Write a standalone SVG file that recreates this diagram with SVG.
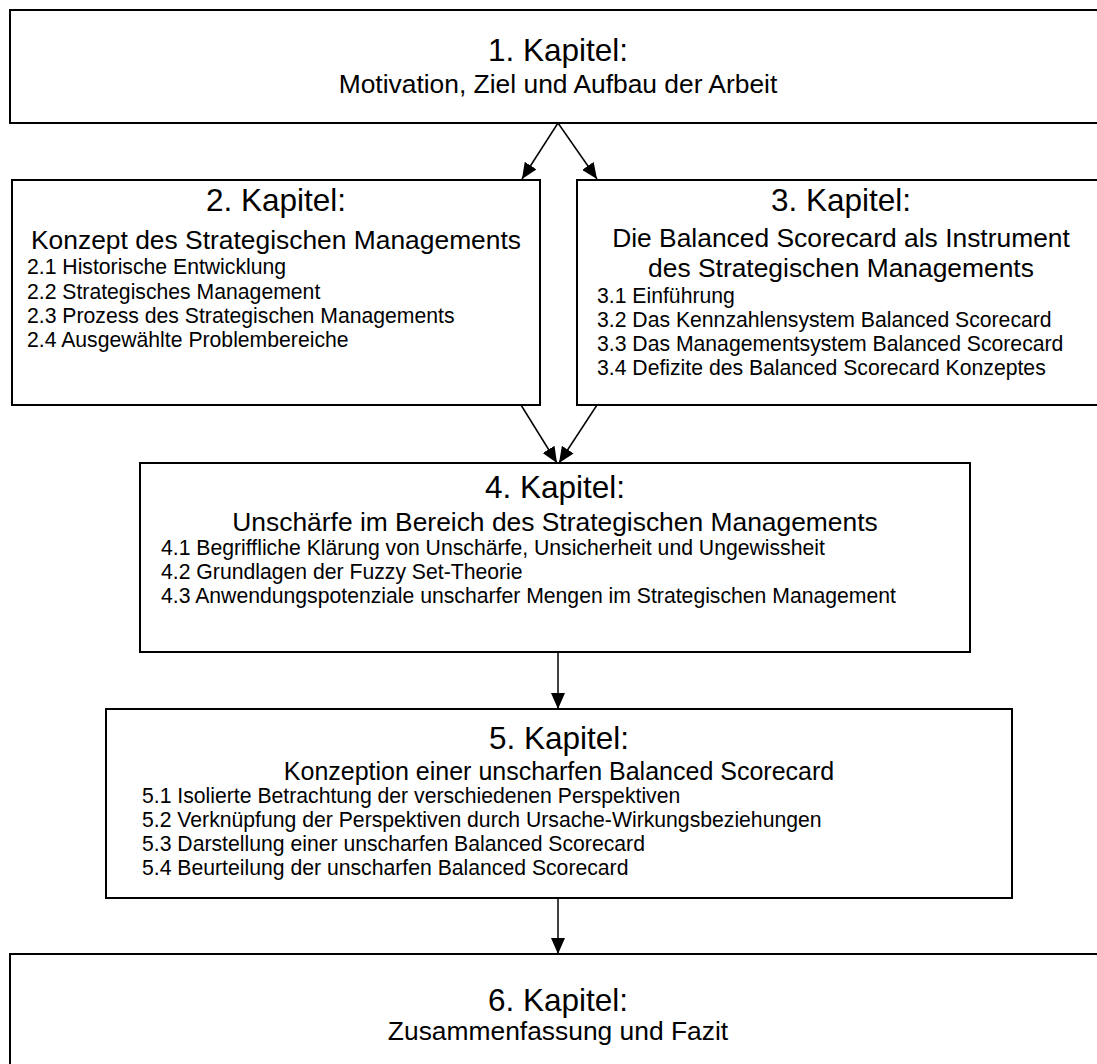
<svg xmlns="http://www.w3.org/2000/svg" width="1097" height="1064" viewBox="0 0 1097 1064">
<style>
.box{fill:#fff;stroke:#000;stroke-width:2}
.t{font-family:"Liberation Sans",Arial,sans-serif;fill:#000}
.h{font-size:31.5px;text-anchor:middle}
.s{font-size:26.4px;text-anchor:middle}
.s2{font-size:25px}
.i{font-size:21.2px}
.c{fill:none;stroke:#000;stroke-width:1.5}
</style>
<defs>
<marker id="ah" markerUnits="userSpaceOnUse" markerWidth="17" markerHeight="14" refX="16" refY="7" orient="auto">
<path d="M0,0 L16,7 L0,14 Z" fill="#000"/>
</marker>
</defs>
<rect width="1097" height="1064" fill="#fff"/>
<g id="connectors">
<line class="c" x1="558" y1="123" x2="522" y2="179" marker-end="url(#ah)"/>
<line class="c" x1="558" y1="123" x2="597" y2="179" marker-end="url(#ah)"/>
<line class="c" x1="521" y1="405" x2="557" y2="463" marker-end="url(#ah)"/>
<line class="c" x1="597" y1="405" x2="559" y2="463" marker-end="url(#ah)"/>
<line class="c" x1="558" y1="652" x2="558" y2="709" marker-end="url(#ah)"/>
<line class="c" x1="558" y1="898" x2="558" y2="954" marker-end="url(#ah)"/>
</g>
<g id="k1">
<rect class="box" x="10" y="10" width="1096" height="113"/>
<text class="t h" x="558" y="61">1. Kapitel:</text>
<text class="t s" x="558" y="93">Motivation, Ziel und Aufbau der Arbeit</text>
</g>
<g id="k2">
<rect class="box" x="12" y="180" width="528" height="225"/>
<text class="t h" x="276" y="211">2. Kapitel:</text>
<text class="t s" x="276" y="249">Konzept des Strategischen Managements</text>
<text class="t i" x="27" y="274">2.1 Historische Entwicklung</text>
<text class="t i" x="27" y="299">2.2 Strategisches Management</text>
<text class="t i" x="27" y="323">2.3 Prozess des Strategischen Managements</text>
<text class="t i" x="27" y="347">2.4 Ausgewählte Problembereiche</text>
</g>
<g id="k3">
<rect class="box" x="577" y="180" width="528" height="225"/>
<text class="t h" x="841" y="211">3. Kapitel:</text>
<text class="t s" x="841" y="247">Die Balanced Scorecard als Instrument</text>
<text class="t s" x="841" y="277">des Strategischen Managements</text>
<text class="t i" x="597" y="303">3.1 Einführung</text>
<text class="t i" x="597" y="327">3.2 Das Kennzahlensystem Balanced Scorecard</text>
<text class="t i" x="597" y="351">3.3 Das Managementsystem Balanced Scorecard</text>
<text class="t i" x="597" y="375">3.4 Defizite des Balanced Scorecard Konzeptes</text>
</g>
<g id="k4">
<rect class="box" x="140" y="463" width="830" height="189"/>
<text class="t h" x="555" y="498">4. Kapitel:</text>
<text class="t s" x="555" y="531">Unschärfe im Bereich des Strategischen Managements</text>
<text class="t i" x="161" y="555">4.1 Begriffliche Klärung von Unschärfe, Unsicherheit und Ungewissheit</text>
<text class="t i" x="161" y="579">4.2 Grundlagen der Fuzzy Set-Theorie</text>
<text class="t i" x="161" y="603">4.3 Anwendungspotenziale unscharfer Mengen im Strategischen Management</text>
</g>
<g id="k5">
<rect class="box" x="106" y="709" width="906" height="189"/>
<text class="t h" x="559" y="749">5. Kapitel:</text>
<text class="t s s2" x="559" y="780">Konzeption einer unscharfen Balanced Scorecard</text>
<text class="t i" x="142" y="803">5.1 Isolierte Betrachtung der verschiedenen Perspektiven</text>
<text class="t i" x="142" y="827">5.2 Verknüpfung der Perspektiven durch Ursache-Wirkungsbeziehungen</text>
<text class="t i" x="142" y="851">5.3 Darstellung einer unscharfen Balanced Scorecard</text>
<text class="t i" x="142" y="875">5.4 Beurteilung der unscharfen Balanced Scorecard</text>
</g>
<g id="k6">
<rect class="box" x="10" y="954" width="1096" height="120"/>
<text class="t h" x="558" y="1011">6. Kapitel:</text>
<text class="t s" x="558" y="1040">Zusammenfassung und Fazit</text>
</g>
</svg>
